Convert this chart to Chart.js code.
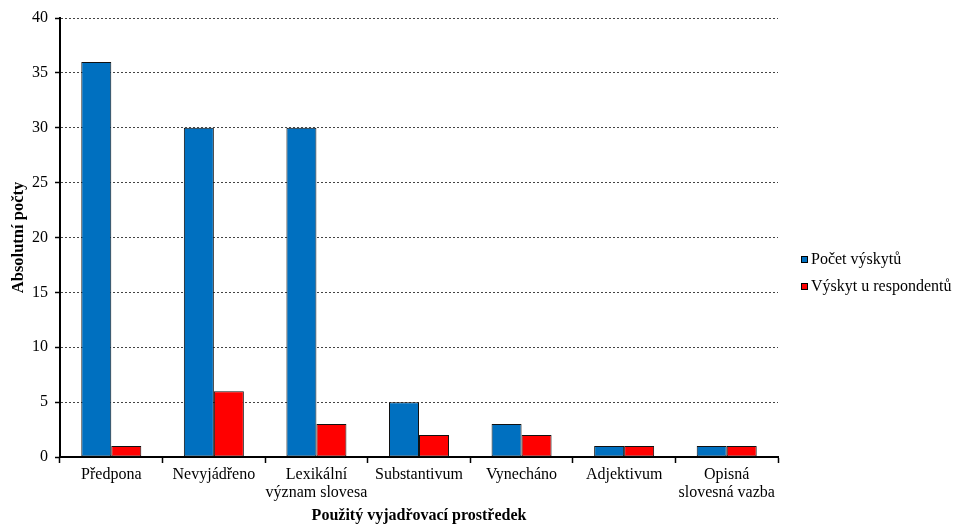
<!DOCTYPE html>
<html>
<head>
<meta charset="utf-8">
<script src="https://cdn.jsdelivr.net/npm/chart.js@4/dist/chart.umd.min.js"></script>
<style>
  html, body { margin: 0; padding: 0; background: #fff; }
  #wrap { width: 956px; height: 524px; }
</style>
</head>
<body>
<div id="wrap"><canvas id="c" width="956" height="524"></canvas></div>
<script>
// Kategorie vyjadřovacích prostředků (víceřádkové popisky jako pole)
const categories = [
  'Předpona',
  'Nevyjádřeno',
  ['Lexikální', 'význam slovesa'],
  'Substantivum',
  'Vynecháno',
  'Adjektivum',
  ['Opisná', 'slovesná vazba']
];
const seriesNames = ['Počet výskytů', 'Výskyt u respondentů'];
const pocetVyskytu = [36, 30, 30, 5, 3, 1, 1];
const vyskytRespondentu = [1, 6, 3, 2, 2, 1, 1];
const yTicks = { min: 0, max: 40, step: 5 };
const axisTitles = { x: 'Použitý vyjadřovací prostředek', y: 'Absolutní počty' };

const FONT = '"Liberation Serif", "Times New Roman", serif';

// Legenda vpravo: malý čtvereček s obrysem a text hned za ním
const sideLegend = {
  id: 'sideLegend',
  afterDraw(chart) {
    const ctx = chart.ctx;
    const x = chart.chartArea.right + 23;
    const rows = [259, 286];
    ctx.save();
    ctx.font = '16px ' + FONT;
    ctx.textBaseline = 'middle';
    ctx.textAlign = 'left';
    chart.data.datasets.forEach((ds, i) => {
      const cy = rows[i];
      ctx.fillStyle = ds.backgroundColor;
      ctx.fillRect(x, cy - 3, 7, 7);
      ctx.strokeStyle = '#000';
      ctx.lineWidth = 1;
      ctx.strokeRect(x + 0.5, cy - 2.5, 6, 6);
      ctx.fillStyle = '#000';
      ctx.fillText(ds.label, x + 10, cy + 1);
    });
    ctx.restore();
  }
};

new Chart(document.getElementById('c'), {
  type: 'bar',
  data: {
    labels: categories,
    datasets: [
      {
        label: seriesNames[0],
        data: pocetVyskytu,
        backgroundColor: '#0070C0',
        borderColor: '#111',
        borderWidth: 1,
        borderSkipped: false
      },
      {
        label: seriesNames[1],
        data: vyskytRespondentu,
        backgroundColor: '#FF0000',
        borderColor: '#111',
        borderWidth: 1,
        borderSkipped: false
      }
    ]
  },
  plugins: [sideLegend],
  options: {
    responsive: false,
    animation: false,
    devicePixelRatio: 1,
    layout: { padding: { top: 18, left: 0, right: 178, bottom: 0 } },
    datasets: { bar: { categoryPercentage: 0.585, barPercentage: 1.0 } },
    plugins: {
      tooltip: { enabled: false },
      legend: { display: false }
    },
    scales: {
      x: {
        offset: true,
        grid: {
          offset: true,
          drawOnChartArea: false,
          drawTicks: true,
          tickLength: 6,
          tickColor: '#000',
          tickWidth: 1.5,
          color: '#000'
        },
        border: { display: true, color: '#000', width: 2 },
        ticks: {
          color: '#000',
          autoSkip: false,
          maxRotation: 0,
          minRotation: 0,
          padding: 3,
          font: { family: FONT, size: 16, lineHeight: 1.125 }
        },
        title: {
          display: true,
          text: axisTitles.x,
          color: '#000',
          padding: { top: 0, bottom: 0 },
          font: { family: FONT, size: 16, weight: 'bold', lineHeight: 1 }
        },
        afterFit: (scale) => { scale.height = 67; }
      },
      y: {
        min: yTicks.min,
        max: yTicks.max,
        ticks: {
          stepSize: yTicks.step,
          color: '#000',
          padding: 7,
          font: { family: FONT, size: 16 }
        },
        grid: {
          color: '#444',
          lineWidth: 1,
          drawTicks: true,
          tickLength: 5,
          tickColor: '#000',
          tickWidth: 1.5,
          tickBorderDash: []
        },
        border: { display: true, color: '#000', width: 2, dash: [2, 2] },
        title: {
          display: true,
          text: axisTitles.y,
          color: '#000',
          padding: { top: 10, bottom: 0 },
          font: { family: FONT, size: 16.5, weight: 'bold', lineHeight: 1 }
        },
        afterFit: (scale) => { scale.width = 60; }
      }
    }
  }
});
</script>
</body>
</html>
